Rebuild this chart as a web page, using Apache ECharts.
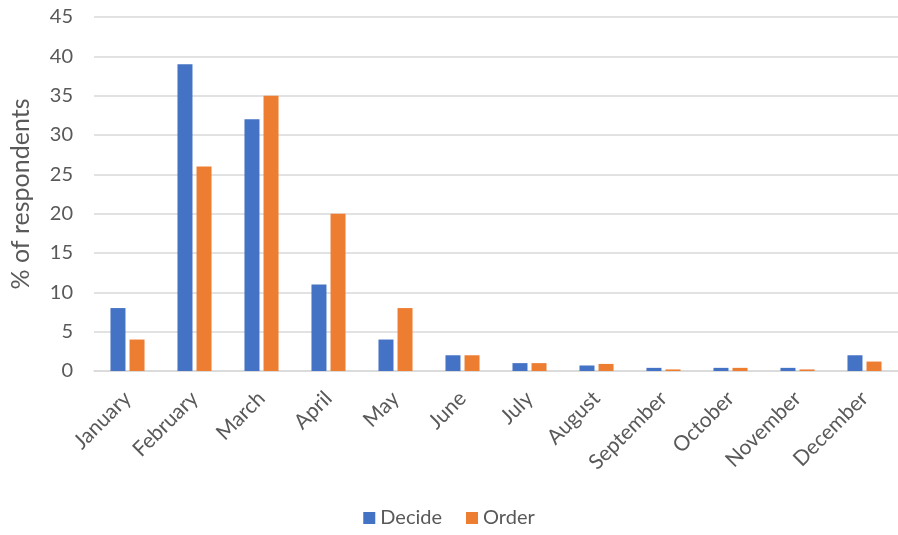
<!DOCTYPE html>
<html>
<head>
<meta charset="utf-8">
<script src="https://cdn.jsdelivr.net/npm/echarts@6/dist/echarts.min.js"></script>
<style>
  html, body { margin: 0; padding: 0; background: #fff; }
  #chart { width: 898px; height: 535px; }
</style>
</head>
<body>
<div id="chart"></div>
<script>
const months = ["January", "February", "March", "April", "May", "June", "July",
  "August", "September", "October", "November", "December"];
const decide = [8, 39, 32, 11, 4, 2, 1, 0.7, 0.4, 0.4, 0.4, 2];
const order = [4, 26, 35, 20, 8, 2, 1, 0.9, 0.2, 0.4, 0.2, 1.2];

const font = "Lato, 'Open Sans', sans-serif";
const chart = echarts.init(document.getElementById("chart"));

chart.setOption({
  animation: false,
  textStyle: { fontFamily: font },
  grid: { left: 89, right: 0, top: 17, bottom: 164 },
  legend: {
    bottom: 2,
    left: "center",
    itemWidth: 12,
    itemHeight: 12,
    itemGap: 24,
    icon: "rect",
    textStyle: { color: "#595959", fontSize: 20, fontFamily: font },
    data: ["Decide", "Order"]
  },
  xAxis: {
    type: "category",
    data: months,
    axisLine: { lineStyle: { color: "#d9d9d9", width: 1.5 } },
    axisTick: { show: false },
    axisLabel: { rotate: 45, color: "#595959", fontSize: 21, margin: 24, interval: 0 }
  },
  yAxis: {
    type: "value",
    min: 0,
    max: 45,
    interval: 5,
    name: "% of respondents",
    nameLocation: "middle",
    nameGap: 61,
    nameTextStyle: { color: "#595959", fontSize: 25 },
    axisLine: { show: false },
    axisTick: { show: false },
    axisLabel: { color: "#595959", fontSize: 20, margin: 21 },
    splitLine: { lineStyle: { color: "#d9d9d9", width: 1.5 } }
  },
  series: [
    {
      name: "Decide",
      type: "bar",
      data: decide,
      barWidth: 15,
      barGap: "27%",
      itemStyle: { color: "#4472c4" }
    },
    {
      name: "Order",
      type: "bar",
      data: order,
      barWidth: 15,
      itemStyle: { color: "#ed7d31" }
    }
  ]
});
</script>
</body>
</html>
